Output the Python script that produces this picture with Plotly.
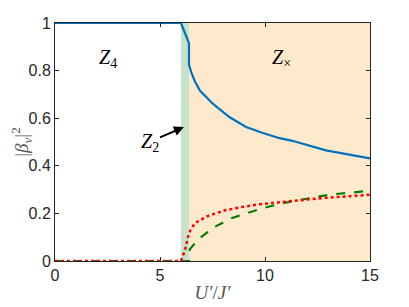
import plotly.graph_objects as go

# Data
u_blue = [0, 6.0, 6.38, 6.38, 6.5, 6.67, 6.9, 7.5, 8.3, 9.1, 9.9, 10.7, 11.3, 12.9, 15]
v_blue = [1, 1, 0.915, 0.825, 0.79, 0.753, 0.716, 0.662, 0.605, 0.563, 0.538, 0.516, 0.505, 0.465, 0.431]

u_red = [0, 6.0, 6.19, 6.33, 6.45, 6.67, 7.3, 8.1, 8.9, 9.7, 10.6, 12.8, 15]
v_red = [0, 0, 0.046, 0.1, 0.13, 0.16, 0.19, 0.213, 0.227, 0.238, 0.246, 0.265, 0.278]

u_green = [0, 6.38, 6.42, 6.9, 7.6, 8.4, 9.1, 9.9, 10.7, 11.6, 13.2, 15]
v_green = [0, 0, 0.05, 0.097, 0.143, 0.18, 0.2, 0.222, 0.24, 0.256, 0.28, 0.295]

z2_band = [6.0, 6.4]
zx_band = [6.4, 15]

x_ticks = [0, 5, 10, 15]
y_ticks = [0, 0.2, 0.4, 0.6, 0.8, 1]
y_tick_text = ["0", "0.2", "0.4", "0.6", "0.8", "1"]

fig = go.Figure()

fig.add_shape(type="rect", x0=z2_band[0], x1=z2_band[1], y0=0, y1=1,
              xref="x", yref="y", fillcolor="#c6e2c9", line_width=0, layer="below")
fig.add_shape(type="rect", x0=zx_band[0], x1=zx_band[1], y0=0, y1=1,
              xref="x", yref="y", fillcolor="#fde9cc", line_width=0, layer="below")

fig.add_trace(go.Scatter(x=u_green, y=v_green, mode="lines",
                         line=dict(color="#008000", width=2.2, dash="dash")))
fig.add_trace(go.Scatter(x=u_red, y=v_red, mode="lines",
                         line=dict(color="#ff0000", width=2.5, dash="dot")))
fig.add_trace(go.Scatter(x=u_blue, y=v_blue, mode="lines",
                         line=dict(color="#0072bd", width=2.2)))

serif = "Liberation Serif, DejaVu Serif, serif"
fig.add_annotation(x=2.5, y=0.85, text="<i>Z</i><sub>4</sub>", showarrow=False,
                   font=dict(family=serif, size=20, color="black"))
fig.add_annotation(x=10.8, y=0.85, text="<i>Z</i><sub>×</sub>", showarrow=False,
                   font=dict(family=serif, size=20, color="black"))
fig.add_annotation(x=6.14, y=0.563, ax=4.5, ay=0.5, axref="x", ayref="y",
                   text="<i>Z</i><sub>2</sub>", showarrow=True, arrowhead=2,
                   arrowsize=1, arrowwidth=2, arrowcolor="black", standoff=0,
                   xanchor="center", yanchor="middle",
                   font=dict(family=serif, size=20, color="black"))

axis_common = dict(showline=True, linecolor="#262626", linewidth=1, mirror="ticks",
                   ticks="inside", ticklen=4, tickcolor="#262626", showgrid=False,
                   zeroline=False, automargin=False,
                   tickfont=dict(family="Liberation Sans, Arial, sans-serif", size=16, color="#262626"))

fig.update_layout(
    width=401, height=299,
    margin=dict(l=47, r=39, t=15, b=46),
    paper_bgcolor="white", plot_bgcolor="white",
    showlegend=False,
    xaxis=dict(range=[0, 15], tickvals=x_ticks,
               title=dict(text="<i>U′</i>/<i>J′</i>", standoff=2,
                          font=dict(family=serif, size=19, color="#555555")),
               **axis_common),
    yaxis=dict(range=[0, 1], tickvals=y_ticks, ticktext=y_tick_text,
               title=dict(text="|<i>β<sub>ν</sub></i>|<sup>2</sup>", standoff=2,
                          font=dict(family=serif, size=19, color="#555555")),
               **axis_common),
)

fig.write_html("out.html")
